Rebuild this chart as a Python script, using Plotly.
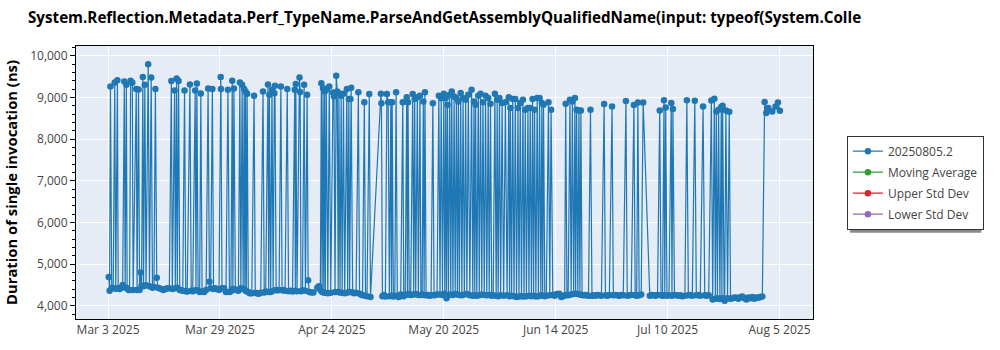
import pandas as pd
import plotly.graph_objects as go

# ---- data ----
start_date = "2025-03-03"
# days since start_date of every run, and its duration in ns
day_offsets = [
    0.16, 0.35, 0.55, 0.85, 1.2, 1.55, 1.78, 2.17, 2.35, 2.7, 3.05, 3.39, 3.78, 3.97, 4.25, 4.43, 4.78, 5.0, 5.24, 5.63,
    5.82, 6.55, 6.74, 7.08, 7.32, 7.55, 7.78, 8.08, 8.24, 8.54, 8.82, 9.32, 9.62, 10.02, 10.32, 10.66, 11.0, 11.31, 11.58, 11.93,
    12.39, 12.85, 13.32, 13.78, 14.24, 14.7, 14.93, 15.46, 15.62, 15.92, 16.08, 16.38, 16.66, 17.01, 17.35, 17.77, 18.05, 18.39, 19.02, 19.32,
    19.66, 20.24, 20.42, 20.63, 20.93, 21.28, 21.55, 21.85, 22.32, 22.78, 23.24, 23.54, 23.82, 24.23, 24.51, 24.85, 25.32, 25.78, 26.17, 26.22,
    26.47, 26.93, 27.39, 27.85, 28.2, 28.55, 28.85, 29.0, 29.24, 29.58, 29.93, 30.28, 30.62, 30.85, 31.15, 31.38, 31.62, 31.78, 31.94, 32.12,
    32.31, 32.58, 32.93, 33.39, 33.92, 34.2, 34.55, 35.0, 35.47, 36.0, 36.28, 36.62, 37.15, 37.32, 37.48, 37.78, 38.08, 38.35, 38.63, 38.77,
    39.05, 39.39, 39.74, 40.15, 40.43, 40.78, 41.12, 41.63, 41.93, 42.39, 42.85, 43.38, 43.5, 43.62, 43.89, 44.47, 44.63, 44.82, 45.17, 45.55,
    45.85, 46.25, 46.48, 46.78, 47.24, 47.7, 48.62, 49.01, 49.32, 49.55, 49.73, 49.94, 50.12, 50.31, 50.47, 50.7, 51.05, 51.39, 51.74, 52.25,
    52.48, 52.73, 53.01, 53.24, 53.47, 53.63, 53.89, 54.16, 54.39, 54.69, 54.97, 55.48, 55.66, 55.94, 56.12, 56.31, 56.47, 56.82, 57.16, 57.62,
    58.15, 58.43, 58.77, 59.12, 59.54, 59.81, 60.16, 60.69, 60.97, 63.39, 63.51, 63.74, 64.08, 64.43, 64.78, 65.08, 65.36, 65.7, 65.86, 66.0,
    66.28, 66.62, 66.92, 67.2, 67.55, 68.0, 68.47, 68.7, 69.04, 69.39, 69.55, 69.69, 69.97, 70.31, 70.78, 71.01, 71.24, 71.47, 71.86, 72.09,
    72.46, 72.69, 72.97, 73.24, 73.43, 73.62, 73.89, 74.24, 74.7, 75.05, 75.46, 75.74, 76.08, 76.43, 76.85, 77.12, 77.4, 77.7, 78.0, 78.23,
    78.46, 78.62, 78.85, 79.08, 79.38, 79.62, 79.85, 80.12, 80.4, 80.65, 80.93, 81.16, 81.39, 81.62, 81.92, 82.2, 82.48, 82.78, 83.08, 83.36,
    83.7, 84.05, 84.46, 84.74, 85.02, 85.2, 85.39, 85.67, 86.01, 86.24, 86.54, 86.82, 87.1, 87.4, 87.7, 87.98, 88.32, 88.55, 88.85, 89.13,
    89.48, 89.87, 90.17, 90.4, 90.63, 90.93, 91.21, 91.55, 91.9, 92.31, 92.71, 93.1, 93.28, 93.47, 93.75, 94.02, 94.32, 94.62, 94.9, 95.24,
    95.47, 95.77, 96.05, 96.39, 96.63, 96.93, 97.2, 97.55, 97.78, 98.08, 98.36, 98.63, 98.86, 99.09, 99.39, 99.7, 99.98, 100.25, 100.55, 100.78,
    100.97, 101.17, 101.47, 101.82, 102.32, 102.62, 102.93, 103.32, 103.78, 104.24, 104.82, 105.28, 105.74, 106.09, 106.32, 106.62, 106.9, 107.31, 107.59, 107.87,
    108.17, 108.47, 108.63, 108.86, 109.14, 109.39, 109.62, 109.85, 110.13, 110.47, 110.82, 111.16, 111.62, 112.08, 112.43, 112.78, 113.24, 113.7, 114.16, 114.62,
    115.25, 115.55, 116.01, 116.47, 117.09, 117.39, 117.86, 118.32, 118.78, 119.24, 119.7, 120.32, 120.62, 121.08, 121.55, 122.17, 122.47, 122.82, 123.09, 123.39,
    123.86, 124.32, 125.86, 126.28, 126.74, 127.2, 127.66, 128.17, 128.47, 128.82, 129.16, 129.35, 129.56, 129.86, 130.32, 130.85, 131.01, 131.24, 131.59, 132.05,
    132.51, 132.97, 133.43, 134.01, 134.47, 134.82, 135.28, 135.74, 136.32, 136.67, 137.13, 137.59, 138.24, 138.63, 139.09, 139.55, 140.17, 140.47, 140.86, 141.09,
    141.32, 141.57, 141.85, 142.15, 142.47, 142.61, 142.78, 143.13, 143.25, 143.54, 143.93, 144.32, 144.62, 145.08, 145.54, 146.01, 146.47, 146.93, 147.39, 147.85,
    148.32, 148.78, 149.24, 149.7, 150.16, 150.62, 151.09, 151.55, 152.01, 152.54, 152.93, 153.4, 154.32, 155.08, 155.63, 156.09,
]
durations_ns = [
    4690, 4360, 9260, 4430, 4420, 9355, 4410, 9410, 4420, 4400, 4430, 4500, 9380, 4440, 9300, 4420, 4380, 4380, 9400, 9350,
    4380, 9200, 4380, 9190, 4380, 4800, 4480, 9490, 4470, 9300, 4490, 9795, 4470, 9475, 4430, 4450, 9200, 4670, 4430, 4420,
    4400, 4380, 4400, 4420, 4420, 9395, 4400, 9165, 4420, 9450, 4430, 9395, 4380, 4370, 4360, 9165, 4350, 4340, 9310, 4360,
    4350, 9165, 4380, 9330, 4360, 4330, 9090, 4340, 4330, 4380, 9215, 4575, 4420, 9200, 4400, 4420, 4400, 4380, 9490, 9200,
    4420, 4420, 4330, 9180, 4330, 4350, 9400, 4400, 9215, 4390, 4380, 4360, 9355, 4420, 9300, 4400, 9200, 4380, 9140, 4350,
    9085, 4330, 4300, 4300, 9040, 4310, 4300, 4290, 4310, 9140, 4320, 4340, 9310, 4330, 9060, 4330, 9180, 4360, 9100, 9280,
    4380, 4370, 4380, 9260, 4370, 4380, 4360, 9200, 4350, 4360, 4340, 9180, 4360, 9320, 4350, 9475, 9130, 4350, 4370, 9300,
    4360, 9060, 4610, 4330, 4320, 4320, 4430, 4470, 4380, 9340, 4330, 9225, 4320, 9140, 4310, 9180, 4300, 9260, 4310, 9115,
    9020, 4330, 9520, 9140, 4330, 9100, 4320, 9040, 4310, 9085, 4300, 9200, 4320, 8960, 4330, 8960, 9230, 4320, 4300, 4310,
    9120, 4290, 4270, 4250, 8885, 4240, 4230, 9080, 4210, 9085, 8860, 4230, 4260, 4220, 9080, 8885, 4230, 8885, 4240, 8885,
    4220, 4240, 9125, 4230, 4210, 4270, 8885, 4230, 4260, 9000, 4270, 8885, 4280, 4260, 9080, 4270, 8960, 4280, 9005, 4260,
    9040, 4260, 4270, 8900, 4260, 9120, 4250, 4260, 4240, 4250, 8860, 4250, 4260, 4270, 9040, 4270, 8980, 4260, 9085, 4290,
    8982, 4180, 8822, 4250, 9061, 4270, 9140, 4260, 9020, 4280, 8982, 4270, 8901, 4260, 9102, 4250, 8982, 4270, 8941, 4280,
    9061, 4250, 9181, 4240, 8901, 4250, 8822, 4240, 9040, 4250, 9085, 4270, 8880, 4260, 9040, 4250, 8982, 4260, 8846, 4240,
    4250, 9085, 4240, 8941, 4230, 8982, 4250, 8862, 4240, 8880, 4250, 9005, 4230, 8743, 4240, 8960, 4230, 8960, 4210, 8743,
    4220, 8862, 4230, 8941, 4220, 8702, 4230, 8743, 4240, 8743, 4230, 8960, 4240, 8702, 4220, 8982, 4230, 8982, 4250, 8862,
    4240, 8822, 4230, 4240, 8880, 4250, 8702, 4260, 4240, 4280, 4290, 4210, 4230, 4250, 8846, 4260, 4250, 8941, 4270, 8901,
    4280, 8982, 4290, 8702, 4280, 8686, 4270, 8686, 4260, 4250, 4260, 4250, 4240, 8702, 4240, 4250, 4240, 4260, 4250, 4240,
    8838, 4250, 4240, 4260, 8781, 4250, 4260, 4250, 4240, 4260, 4250, 8910, 4240, 4250, 4260, 8815, 4250, 4240, 8878, 4250,
    4270, 8878, 4240, 4260, 4250, 4240, 4260, 8686, 4250, 4240, 8933, 4250, 8759, 4240, 4250, 8862, 4240, 8720, 4260, 4250,
    4240, 4250, 4230, 4240, 8933, 4250, 4260, 4240, 8917, 4250, 4260, 4240, 8781, 4250, 4240, 4250, 8925, 4150, 8965, 4170,
    8663, 4180, 8702, 4160, 8767, 4180, 8798, 4170, 4120, 8686, 4180, 8655, 4170, 4180, 4200, 4190, 4170, 4210, 4220, 4180,
    4150, 4200, 4180, 4210, 4170, 4200, 4190, 4210, 4220, 8886, 8624, 8743, 8660, 8781, 8878, 8679,
]
series_names = ["20250805.2", "Moving Average", "Upper Std Dev", "Lower Std Dev"]
series_colors = ["#1f77b4", "#2ca02c", "#d62728", "#9467bd"]
tick_labels = ["Mar 3 2025", "Mar 29 2025", "Apr 24 2025", "May 20 2025",
               "Jun 14 2025", "Jul 10 2025", "Aug 5 2025"]
tick_step_days = 26
y_ticks = [4000, 5000, 6000, 7000, 8000, 9000, 10000]
title_text = "System.Reflection.Metadata.Perf_TypeName.ParseAndGetAssemblyQualifiedName(input: typeof(System.Colle"
y_title = "Duration of single invocation (ns)"

base = pd.Timestamp(start_date)
x_dates = base + pd.to_timedelta(day_offsets, unit="D")
tick_vals = [base + pd.Timedelta(days=tick_step_days * k) for k in range(len(tick_labels))]

FONT = "Open Sans"

fig = go.Figure()
fig.add_trace(go.Scatter(
    x=x_dates, y=durations_ns, mode="lines+markers", name=series_names[0],
    line=dict(color=series_colors[0], width=1.2),
    marker=dict(color=series_colors[0], size=6.5),
    legendgroup="g0",
))
# statistic series: no values are drawn in the reference, only their legend entries
for i, (name, col) in enumerate(zip(series_names[1:], series_colors[1:])):
    fig.add_trace(go.Scatter(
        x=[x_dates[0]], y=[None], mode="lines+markers", name=name,
        line=dict(color=col, width=1.2), marker=dict(color=col, size=6.5),
        legendgroup="g%d" % (i + 1),
    ))

fig.update_layout(
    width=1000, height=350,
    margin=dict(l=71, r=187, t=46, b=30),
    paper_bgcolor="white", plot_bgcolor="#E5ECF6",
    font=dict(family=FONT, size=12, color="#444"),
    title=dict(text="<b>" + title_text + "</b>", font=dict(family=FONT, size=15.2, color="black"),
               xref="container", x=0.028, xanchor="left", yref="container", y=0.949, yanchor="middle"),
    showlegend=True,
    legend=dict(x=1.046, y=0.6715, xanchor="left", yanchor="top",
                bordercolor="#333", borderwidth=1, bgcolor="white",
                tracegroupgap=2,
                font=dict(family=FONT, size=12, color="#444")),
)
fig.update_xaxes(
    type="date",
    range=[base - pd.Timedelta(days=7.45), base + pd.Timedelta(days=163.78)],
    tickvals=tick_vals, ticktext=tick_labels,
    showline=True, linecolor="black", linewidth=1, mirror=True,
    showgrid=True, gridcolor="white", gridwidth=1, zeroline=False,
    ticks="", tickfont=dict(family=FONT, size=12, color="#444"),
)
fig.update_yaxes(
    range=[3682, 10232], tickvals=y_ticks, tickformat=",d",
    showline=True, linecolor="black", linewidth=1, mirror=True,
    showgrid=True, gridcolor="white", gridwidth=1, zeroline=False,
    ticks="outside", ticklen=5, tickcolor="black",
    minor=dict(ticks="outside", ticklen=3, tickcolor="black", dtick=200, showgrid=False),
    tickfont=dict(family=FONT, size=12, color="#444"),
    title=dict(text="<b>" + y_title + "</b>", font=dict(family=FONT, size=14.8, color="black"), standoff=8),
)
# legend drop shadow (offset grey box behind the legend)
fig.add_shape(type="rect", xref="paper", yref="paper",
              x0=1.0503, x1=1.2285, y0=0.3160, y1=0.6606,
              fillcolor="#8a8a8a", line=dict(width=0), layer="above")

fig.write_html("out.html")
